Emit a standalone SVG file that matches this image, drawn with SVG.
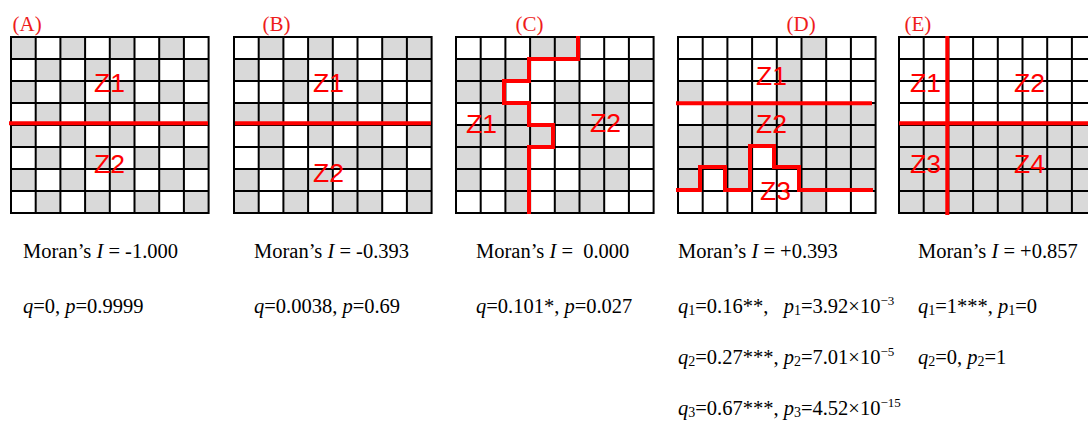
<svg xmlns="http://www.w3.org/2000/svg" xmlns:xlink="http://www.w3.org/1999/xlink" width="1088" height="421" viewBox="0 0 1088 421">
<style>
.bg{fill:#fff}
.g{fill:#d9d9d9}
.gl{fill:none;stroke:#000;stroke-width:2;stroke-linecap:square}
.rl{fill:none;stroke:#ff0000;stroke-width:4;stroke-linejoin:miter}
.lbl{font-family:"Liberation Serif","Times New Roman",serif;font-size:21px;fill:#ee1c1c}
.z{font-family:"Liberation Sans",Arial,sans-serif;font-size:26.5px;fill:#ff0000}
.t{font-family:"Liberation Serif","Times New Roman",serif;font-size:20.5px;fill:#000;white-space:pre}
.i{font-style:italic}
</style>
<defs>
<pattern id="chk" width="49.4" height="44" patternUnits="userSpaceOnUse">
<rect x="0" y="0" width="24.7" height="22" class="g"/>
<rect x="24.7" y="22" width="24.7" height="22" class="g"/>
</pattern>
<path id="lines" class="gl" d="M0 0V176M24.7 0V176M49.4 0V176M74.1 0V176M98.8 0V176M123.5 0V176M148.2 0V176M172.9 0V176M197.6 0V176M0 0H197.6M0 22H197.6M0 44H197.6M0 66H197.6M0 88H197.6M0 110H197.6M0 132H197.6M0 154H197.6M0 176H197.6"/>
</defs>
<rect width="1088" height="421" fill="#fff"/>

<g id="panelA">
<text class="lbl" x="12.5" y="31">(A)</text>
<g transform="translate(11,37)">
<rect width="197.6" height="176" fill="url(#chk)"/>
<use href="#lines"/>
</g>
<text class="z" x="94" y="92">Z1</text>
<text class="z" x="94" y="173">Z2</text>
</g>

<g id="panelB">
<text class="lbl" x="262.5" y="31">(B)</text>
<g transform="translate(234,37)">
<rect class="bg" width="197.6" height="176"/>
<path class="g" d="M24.7 0h24.7v22h-24.7zM74.1 0h24.7v22h-24.7zM148.2 0h49.4v22h-49.4zM0 22h24.7v22h-24.7zM49.4 22h24.7v22h-24.7zM98.8 22h24.7v22h-24.7zM172.9 22h24.7v22h-24.7zM49.4 44h24.7v22h-24.7zM123.5 44h24.7v22h-24.7zM0 66h49.4v22h-49.4zM74.1 66h49.4v22h-49.4zM148.2 66h24.7v22h-24.7zM24.7 88h24.7v22h-24.7zM74.1 88h24.7v22h-24.7zM123.5 88h24.7v22h-24.7zM172.9 88h24.7v22h-24.7zM24.7 110h24.7v22h-24.7zM98.8 110h74.1v22h-74.1zM0 132h24.7v22h-24.7zM49.4 132h49.4v22h-49.4zM172.9 132h24.7v22h-24.7zM0 154h24.7v22h-24.7zM49.4 154h24.7v22h-24.7zM98.8 154h49.4v22h-49.4zM172.9 154h24.7v22h-24.7z"/>
<use href="#lines"/>
</g>
<text class="z" x="313" y="92">Z1</text>
<text class="z" x="313" y="182">Z2</text>
</g>

<g id="panelC">
<text class="lbl" x="515.5" y="31">(C)</text>
<g transform="translate(456,37)">
<rect class="bg" width="197.6" height="176"/>
<path class="g" d="M74.1 0h49.4v22h-49.4zM0 22h74.1v22h-74.1zM172.9 22h24.7v22h-24.7zM0 44h49.4v22h-49.4zM98.8 44h24.7v22h-24.7zM148.2 44h24.7v22h-24.7zM24.7 66h49.4v22h-49.4zM98.8 66h74.1v22h-74.1zM0 88h98.8v22h-98.8zM123.5 88h24.7v22h-24.7zM172.9 88h24.7v22h-24.7zM0 110h24.7v22h-24.7zM49.4 110h24.7v22h-24.7zM123.5 110h49.4v22h-49.4zM0 132h24.7v22h-24.7zM49.4 132h24.7v22h-24.7zM123.5 132h49.4v22h-49.4zM49.4 154h24.7v22h-24.7zM98.8 154h49.4v22h-49.4z"/>
<use href="#lines"/>
</g>
<text class="z" x="466" y="133">Z1</text>
<text class="z" x="590" y="132">Z2</text>
</g>

<g id="panelD">
<text class="lbl" x="786.5" y="31">(D)</text>
<g transform="translate(678,37)">
<rect class="bg" width="197.6" height="176"/>
<path class="g" d="M123.5 0h24.7v22h-24.7zM98.8 22h24.7v22h-24.7zM0 44h24.7v22h-24.7zM98.8 44h24.7v22h-24.7zM24.7 66h172.9v22h-172.9zM0 88h197.6v22h-197.6zM0 110h74.1v22h-74.1zM98.8 110h98.8v22h-98.8zM0 132h24.7v22h-24.7zM49.4 132h24.7v22h-24.7zM123.5 132h74.1v22h-74.1zM123.5 154h24.7v22h-24.7z"/>
<use href="#lines"/>
</g>
<text class="z" x="756" y="85">Z1</text>
<text class="z" x="756" y="133">Z2</text>
<text class="z" x="760" y="200">Z3</text>
</g>

<g id="panelE">
<text class="lbl" x="904.5" y="31">(E)</text>
<g transform="translate(899,37)">
<rect class="bg" width="197.6" height="176"/>
<rect class="g" x="0" y="88" width="197.6" height="88"/>
<use href="#lines"/>
</g>
<text class="z" x="910" y="92">Z1</text>
<text class="z" x="1014" y="92">Z2</text>
<text class="z" x="910" y="173">Z3</text>
<text class="z" x="1014" y="173">Z4</text>
</g>

<g id="connectors">
<path class="rl" d="M9 123.3H208"/>
<path class="rl" d="M235 123.3H431"/>
<path class="rl" d="M578 36V59H529V81H504V103H529V125H553V147H529V214"/>
<path class="rl" d="M676 103.3H872"/>
<path class="rl" d="M676 190H700V167H725V190H750V146H774V167H799V190H873"/>
<path class="rl" d="M947.3 36V215M899 123.3H1088"/>
</g>

<g id="stats">
<text class="t" xml:space="preserve" x="23" y="258">Moran’s <tspan class="i">I</tspan> = -1.000</text>
<text class="t" xml:space="preserve" x="254" y="258">Moran’s <tspan class="i">I</tspan> = -0.393</text>
<text class="t" xml:space="preserve" x="476" y="258">Moran’s <tspan class="i">I</tspan> =  0.000</text>
<text class="t" xml:space="preserve" x="678" y="258">Moran’s <tspan class="i">I</tspan> = +0.393</text>
<text class="t" xml:space="preserve" x="918" y="258">Moran’s <tspan class="i">I</tspan> = +0.857</text>

<text class="t" xml:space="preserve" x="23" y="313"><tspan class="i">q</tspan>=0, <tspan class="i">p</tspan>=0.9999</text>
<text class="t" xml:space="preserve" x="254" y="313"><tspan class="i">q</tspan>=0.0038, <tspan class="i">p</tspan>=0.69</text>
<text class="t" xml:space="preserve" x="476" y="313"><tspan class="i">q</tspan>=0.101*, <tspan class="i">p</tspan>=0.027</text>
<text class="t" xml:space="preserve" x="678" y="313"><tspan class="i">q</tspan><tspan font-size="14" dy="2">1</tspan><tspan dy="-2">=0.16**,   </tspan><tspan class="i">p</tspan><tspan font-size="14" dy="2">1</tspan><tspan dy="-2">=3.92×10</tspan><tspan font-size="13" dy="-8">−3</tspan></text>
<text class="t" xml:space="preserve" x="918" y="313"><tspan class="i">q</tspan><tspan font-size="14" dy="2">1</tspan><tspan dy="-2">=1***, </tspan><tspan class="i">p</tspan><tspan font-size="14" dy="2">1</tspan><tspan dy="-2">=0</tspan></text>

<text class="t" xml:space="preserve" x="678" y="364"><tspan class="i">q</tspan><tspan font-size="14" dy="2">2</tspan><tspan dy="-2">=0.27***, </tspan><tspan class="i">p</tspan><tspan font-size="14" dy="2">2</tspan><tspan dy="-2">=7.01×10</tspan><tspan font-size="13" dy="-8">−5</tspan></text>
<text class="t" xml:space="preserve" x="918" y="364"><tspan class="i">q</tspan><tspan font-size="14" dy="2">2</tspan><tspan dy="-2">=0, </tspan><tspan class="i">p</tspan><tspan font-size="14" dy="2">2</tspan><tspan dy="-2">=1</tspan></text>

<text class="t" xml:space="preserve" x="678" y="415"><tspan class="i">q</tspan><tspan font-size="14" dy="2">3</tspan><tspan dy="-2">=0.67***, </tspan><tspan class="i">p</tspan><tspan font-size="14" dy="2">3</tspan><tspan dy="-2">=4.52×10</tspan><tspan font-size="13" dy="-8">−15</tspan></text>
</g>
</svg>
